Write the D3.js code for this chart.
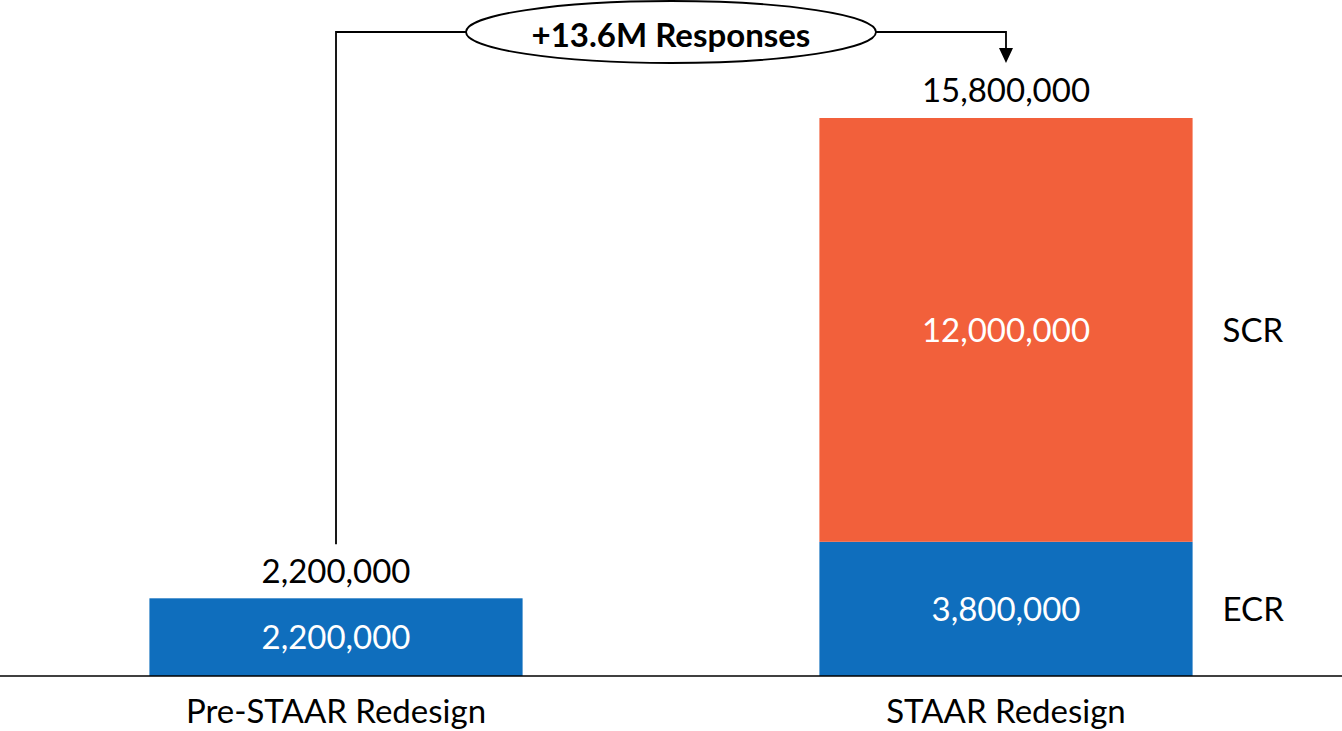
<!DOCTYPE html>
<html>
<head>
<meta charset="utf-8">
<script src="https://cdn.jsdelivr.net/npm/d3@7"></script>
<style>
  body { margin: 0; background: #fff; }
  svg text { font-family: Lato, "Open Sans", sans-serif; }
</style>
</head>
<body>
<div id="chart"></div>
<script>
var categories = ["Pre-STAAR Redesign", "STAAR Redesign"];
var seriesNames = ["ECR", "SCR"];
var ecrValues = [2200000, 3800000];
var scrValues = [0, 12000000];
var seriesColors = ["#0f6ebd", "#f2603b"];

var width = 1342,
    height = 731;

var rows = categories.map(function(c, i) {
  return { category: c, ECR: ecrValues[i], SCR: scrValues[i] };
});
rows.forEach(function(d) { d.total = d.ECR + d.SCR; });

var svg = d3.select("#chart").append("svg")
    .attr("width", width)
    .attr("height", height);

var x = d3.scaleBand()
    .domain(categories)
    .range([0, width])
    .paddingInner(0.443)
    .paddingOuter(0.223);

var y = d3.scaleLinear()
    .domain([0, d3.max(rows, function(d) { return d.total; })])
    .range([676, 118]);

var color = d3.scaleOrdinal().domain(seriesNames).range(seriesColors);
var fmt = d3.format(",");

var stacked = d3.stack().keys(seriesNames)(rows);

// bars
var layers = svg.selectAll(".layer")
  .data(stacked)
  .enter().append("g")
    .attr("class", "layer")
    .attr("fill", function(d) { return color(d.key); });

layers.selectAll("rect")
  .data(function(d) { return d; })
  .enter().append("rect")
    .attr("x", function(d) { return x(d.data.category); })
    .attr("y", function(d) { return y(d[1]); })
    .attr("width", x.bandwidth())
    .attr("height", function(d) { return y(d[0]) - y(d[1]); });

// labels inside segments
layers.selectAll(".seg-label")
  .data(function(d) { return d.filter(function(s) { return s[1] - s[0] > 0; }); })
  .enter().append("text")
    .attr("class", "seg-label")
    .attr("x", function(d) { return x(d.data.category) + x.bandwidth() / 2; })
    .attr("y", function(d) { return (y(d[0]) + y(d[1])) / 2; })
    .attr("dy", "0.36em")
    .attr("text-anchor", "middle")
    .attr("fill", "#fff")
    .style("font-size", "33px")
    .text(function(d) { return fmt(d[1] - d[0]); });

// totals above bars
svg.selectAll(".total-label")
  .data(rows)
  .enter().append("text")
    .attr("class", "total-label")
    .attr("x", function(d) { return x(d.category) + x.bandwidth() / 2; })
    .attr("y", function(d) { return y(d.total) - 27.5; })
    .attr("dy", "0.36em")
    .attr("text-anchor", "middle")
    .attr("fill", "#000")
    .style("font-size", "33px")
    .text(function(d) { return fmt(d.total); });

// series names next to last bar
var last = categories[categories.length - 1];
svg.selectAll(".series-label")
  .data(stacked)
  .enter().append("text")
    .attr("class", "series-label")
    .attr("x", x(last) + x.bandwidth() + 30)
    .attr("y", function(d) {
      var s = d[d.length - 1];
      return (y(s[0]) + y(s[1])) / 2;
    })
    .attr("dy", "0.36em")
    .attr("fill", "#000")
    .style("font-size", "33px")
    .text(function(d) { return d.key; });

// baseline
svg.append("line")
  .attr("x1", 0).attr("x2", width)
  .attr("y1", y(0)).attr("y2", y(0))
  .attr("stroke", "#000")
  .attr("stroke-width", 1.6);

// category labels
svg.selectAll(".cat-label")
  .data(categories)
  .enter().append("text")
    .attr("class", "cat-label")
    .attr("x", function(d) { return x(d) + x.bandwidth() / 2; })
    .attr("y", 723)
    .attr("text-anchor", "middle")
    .attr("fill", "#000")
    .style("font-size", "33px")
    .text(function(d) { return d; });

// difference annotation
var first = rows[0], lastRow = rows[rows.length - 1];
var x1 = x(first.category) + x.bandwidth() / 2,
    x2 = x(lastRow.category) + x.bandwidth() / 2,
    annY = 32,
    cx = (x1 + x2) / 2,
    rx = 205, ry = 31;

svg.append("path")
  .attr("d", "M" + x1 + "," + (y(first.total) - 54) +
             "V" + annY + "H" + x2 + "V" + (y(lastRow.total) - 62))
  .attr("fill", "none")
  .attr("stroke", "#000")
  .attr("stroke-width", 1.8);

svg.append("path")
  .attr("d", "M" + (x2 - 7) + "," + (y(lastRow.total) - 70) +
             "L" + (x2 + 7) + "," + (y(lastRow.total) - 70) +
             "L" + x2 + "," + (y(lastRow.total) - 55) + "Z")
  .attr("fill", "#000");

svg.append("ellipse")
  .attr("cx", cx).attr("cy", annY)
  .attr("rx", rx).attr("ry", ry)
  .attr("fill", "#fff")
  .attr("stroke", "#000")
  .attr("stroke-width", 1.8);

var diff = (lastRow.total - first.total) / 1e6;
svg.append("text")
  .attr("x", cx)
  .attr("y", annY + 3)
  .attr("dy", "0.36em")
  .attr("text-anchor", "middle")
  .attr("fill", "#000")
  .style("font-size", "33px")
  .style("font-weight", "bold")
  .text("+" + d3.format(".1f")(diff) + "M Responses");
</script>
</body>
</html>
